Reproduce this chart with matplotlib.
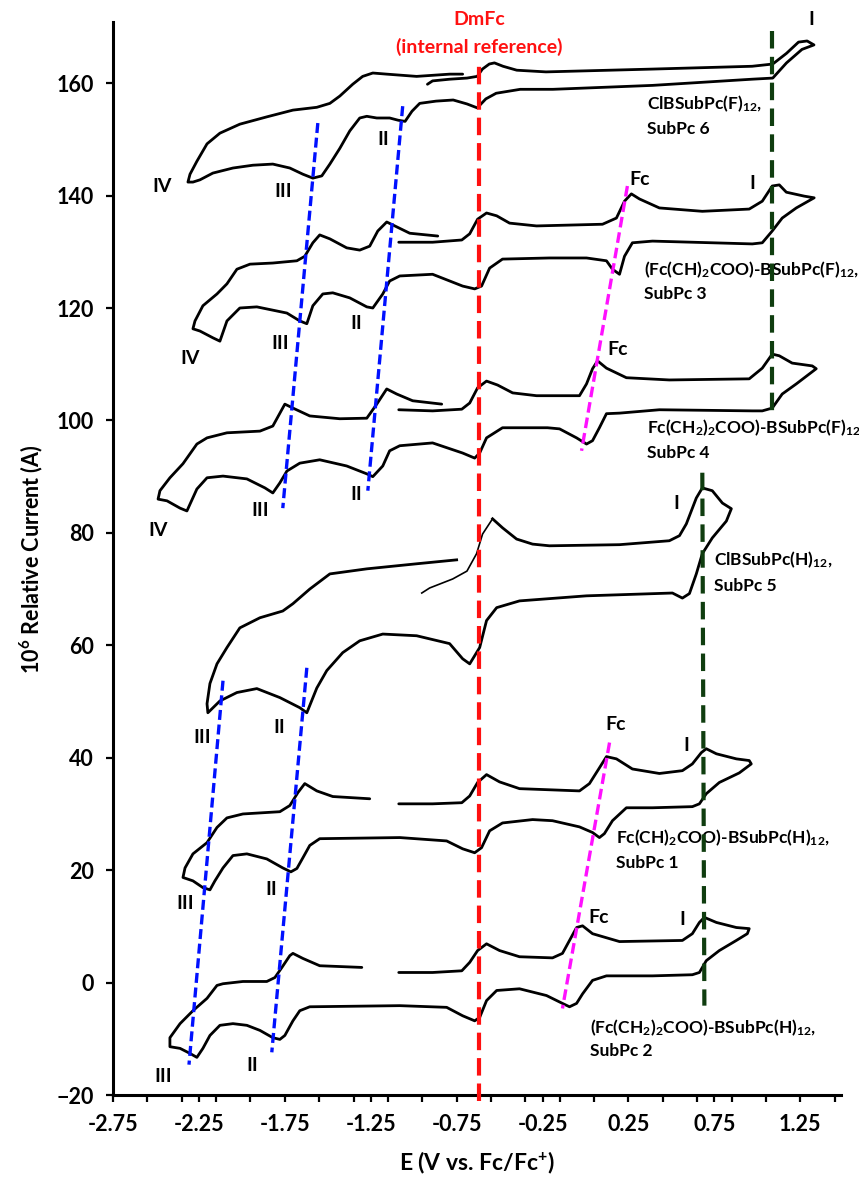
import matplotlib
matplotlib.use("Agg")
import matplotlib.pyplot as plt

plt.rcParams['font.family'] = ['Lato', 'DejaVu Sans']
plt.rcParams['font.weight'] = 'bold'
plt.rcParams['mathtext.fontset'] = 'custom'
plt.rcParams['mathtext.bf'] = 'Lato:bold'
plt.rcParams['mathtext.rm'] = 'Lato:bold'
plt.rcParams['mathtext.default'] = 'bf'

# ---- CV traces (E in V vs Fc/Fc+, current in 1e-6 A, offset) ----
# ClBSubPc(F)12, SubPc 6
e6 = [-0.92, -0.89, -0.79, -0.69, -0.63, -0.60, -0.56, -0.53, -0.48, -0.40, -0.23, 0.39, 0.97, 1.09,
      1.17, 1.24, 1.29, 1.33, 1.26, 1.17, 1.09, 0.97, 0.39, -0.19, -0.38, -0.52, -0.58, -0.63, -0.69,
      -0.77, -0.87, -0.965, -1.01, -1.05, -1.09, -1.14, -1.215, -1.273, -1.314, -1.372, -1.43, -1.488,
      -1.535, -1.587, -1.645, -1.721, -1.82, -1.936, -2.052, -2.169, -2.244, -2.285, -2.314,
      -2.302, -2.262, -2.203, -2.128, -2.012, -1.855, -1.703, -1.564, -1.488, -1.43, -1.355, -1.297,
      -1.238, -1.157, -0.983, -0.79, -0.715]
i6 = [159.8, 160.4, 160.7, 160.9, 161.2, 162.5, 163.4, 163.6, 163.0, 162.3, 162.0, 162.5, 163.0, 163.4,
      165.3, 167.3, 167.5, 166.8, 166.0, 163.6, 160.9, 160.7, 159.6, 158.9, 158.9, 158.2, 157.2, 155.6,
      156.3, 157.0, 156.8, 156.4, 155.0, 153.2, 153.4, 153.8, 153.8, 154.1, 153.8, 151.5, 148.4, 145.6,
      143.5, 143.1, 143.8, 144.9, 145.6, 145.4, 144.9, 144.0, 142.8, 142.4, 142.4,
      143.8, 146.1, 149.2, 151.1, 152.7, 154.0, 155.2, 155.7, 156.4, 157.7, 159.8, 161.2,
      161.8, 161.6, 161.2, 161.6, 161.6]

# (Fc(CH)2COO)-BSubPc(F)12, SubPc 3
e3 = [-1.087, -0.89, -0.72, -0.674, -0.628, -0.576, -0.517, -0.442, -0.285, 0.099, 0.18, 0.227, 0.267,
      0.314, 0.43, 0.68, 0.953, 1.029, 1.087, 1.128, 1.169, 1.273, 1.331, 1.227, 1.145, 1.087, 1.029,
      0.971, 0.39, 0.273, 0.227, 0.198, 0.157, 0.122, 0.006, -0.21, -0.483, -0.558, -0.605, -0.645,
      -0.715, -0.89, -1.081, -1.14, -1.18, -1.238, -1.273, -1.372, -1.471, -1.529, -1.587, -1.622,
      -1.663, -1.738, -1.913, -2.012, -2.087, -2.128, -2.169, -2.244, -2.285,
      -2.273, -2.227, -2.145, -2.087, -2.029, -1.953, -1.82, -1.68, -1.634, -1.587, -1.547, -1.488,
      -1.39, -1.314, -1.256, -1.209, -1.157, -1.11, -1.023, -0.86]
i3 = [131.7, 131.7, 132.1, 133.2, 135.8, 136.9, 136.4, 135.1, 134.6, 134.9, 136.0, 139.0, 140.3,
      139.4, 137.8, 137.2, 137.6, 139.0, 141.7, 141.9, 140.6, 139.9, 139.6, 137.8, 136.0, 133.7, 131.6,
      131.4, 131.9, 131.6, 129.2, 126.0, 126.9, 128.4, 128.9, 128.9, 128.7, 127.1, 123.9, 123.4,
      123.9, 126.0, 125.7, 124.8, 122.5, 120.0, 120.2, 121.8, 122.7, 122.5, 120.4, 117.2,
      117.7, 119.1, 120.2, 120.0, 117.7, 114.1, 114.7, 115.9, 116.3,
      117.7, 120.4, 122.5, 124.3, 126.9, 127.8, 128.0, 128.4, 129.2, 131.6, 133.0, 132.3,
      130.7, 130.3, 131.0, 133.7, 135.3, 134.6, 133.3, 132.8]

# Fc(CH2)2COO)-BSubPc(F)12, SubPc 4
e4 = [-1.087, -0.89, -0.72, -0.674, -0.628, -0.576, -0.512, -0.424, -0.285, -0.035, 0.006, 0.041,
      0.07, 0.122, 0.238, 0.488, 0.953, 1.029, 1.087, 1.128, 1.203, 1.32, 1.343, 1.227, 1.145, 1.087,
      1.029, 0.971, 0.43, 0.198, 0.122, 0.081, 0.041, 0.006, -0.052, -0.151, -0.221, -0.483, -0.576,
      -0.616, -0.645, -0.715, -0.89, -1.081, -1.14, -1.18, -1.238, -1.273, -1.39, -1.547, -1.663,
      -1.738, -1.779, -1.82, -1.866, -1.971, -2.11, -2.203, -2.262, -2.32, -2.36, -2.436, -2.488,
      -2.477, -2.419, -2.343, -2.262, -2.203, -2.087, -1.895, -1.82, -1.75, -1.703, -1.605, -1.43,
      -1.273, -1.215, -1.157, -1.099, -1.006, -0.837]
i4 = [101.9, 101.7, 102.0, 103.1, 105.8, 107.0, 106.3, 104.9, 104.4, 104.4, 106.5, 109.2,
      110.6, 109.3, 107.6, 107.2, 107.4, 109.3, 111.8, 111.5, 110.2, 109.7, 109.2, 106.5, 104.7, 102.2,
      101.7, 101.7, 101.9, 101.3, 101.2, 98.7, 96.4, 95.8, 96.9, 98.5, 98.7, 98.7, 96.9,
      94.2, 93.3, 94.2, 96.0, 95.5, 94.6, 91.9, 90.0, 90.5, 91.9, 93.0, 92.4,
      91.0, 88.9, 87.1, 88.0, 89.6, 90.1, 89.8, 87.8, 83.9, 84.4, 85.7, 86.0,
      87.5, 89.8, 92.3, 95.8, 96.9, 97.8, 98.1, 99.0, 102.9, 102.2, 100.8, 100.3,
      100.4, 102.9, 105.6, 104.7, 103.5, 102.9]

# ClBSubPc(H)12, SubPc 5
e5 = [-0.953, -0.907, -0.773, -0.69, -0.634, -0.599, -0.541, -0.483, -0.401, -0.308, -0.21, 0.198,
      0.488, 0.547, 0.587, 0.645, 0.68, 0.738, 0.797, 0.849, 0.82, 0.738, 0.68, 0.645, 0.605, 0.564,
      0.506, 0.006, -0.384, -0.517, -0.576, -0.616, -0.674, -0.715, -0.791, -0.983, -1.18, -1.314,
      -1.413, -1.506, -1.564, -1.622, -1.663, -1.779, -1.913, -2.029, -2.128, -2.198,
      -2.203, -2.186, -2.145, -2.087, -2.012, -1.895, -1.762, -1.703, -1.605, -1.488, -1.273, -0.983,
      -0.75]
i5 = [69.3, 70.2, 71.8, 73.2, 76.3, 79.8, 82.5, 80.9, 78.9, 78.0, 77.7, 77.9,
      78.6, 79.5, 81.6, 86.2, 88.0, 87.5, 85.3, 84.3, 82.1, 79.1, 76.3, 72.7, 69.2, 68.4,
      69.3, 68.8, 67.9, 66.7, 64.4, 59.6, 56.7, 57.6, 60.3, 61.7, 62.0, 60.8,
      58.7, 55.5, 52.4, 48.0, 48.9, 50.7, 52.3, 51.6, 50.1, 48.0,
      49.6, 53.2, 56.7, 59.6, 63.1, 64.9, 66.1, 67.4, 70.0, 72.7, 73.6, 74.5,
      75.2]

# Fc(CH)2COO)-BSubPc(H)12, SubPc 1
e1 = [-1.087, -0.89, -0.72, -0.674, -0.628, -0.576, -0.5, -0.384, -0.035, 0.023, 0.081, 0.122, 0.18,
      0.273, 0.43, 0.564, 0.622, 0.674, 0.703, 0.762, 0.878, 0.953, 0.965, 0.895, 0.779, 0.703, 0.663,
      0.622, 0.39, 0.238, 0.157, 0.11, 0.081, 0.041, -0.035, -0.192, -0.308, -0.483, -0.558, -0.605,
      -0.645, -0.715, -0.808, -1.081, -1.547, -1.605, -1.645, -1.68, -1.715, -1.762, -1.855, -1.971,
      -2.052, -2.11, -2.157, -2.186, -2.227, -2.285, -2.343,
      -2.331, -2.285, -2.203, -2.145, -2.087, -1.994, -1.779, -1.721, -1.674, -1.634, -1.564, -1.471,
      -1.256]
i1 = [31.8, 31.8, 32.0, 33.2, 35.6, 37.0, 35.7, 34.5, 34.1, 35.4, 38.2, 40.2, 39.8,
      38.0, 37.2, 37.7, 38.9, 40.9, 41.6, 40.7, 39.8, 39.5, 38.9, 37.3, 35.6, 33.6, 31.8,
      31.3, 31.1, 31.1, 28.8, 26.5, 25.8, 26.7, 27.7, 28.8, 29.0, 28.4, 27.0, 24.0,
      23.1, 23.8, 25.2, 25.8, 25.6, 24.4, 22.2, 20.3, 19.7, 20.4, 22.0, 22.9,
      22.6, 20.4, 18.1, 16.5, 16.9, 18.1, 18.7,
      20.4, 22.9, 24.9, 27.6, 29.3, 30.0, 30.4, 31.5, 33.8, 35.4, 34.1, 33.1,
      32.7]

# (Fc(CH2)2COO)-BSubPc(H)12, SubPc 2
e2 = [-1.087, -0.89, -0.72, -0.674, -0.628, -0.576, -0.5, -0.384, -0.192, -0.134, -0.093, -0.052,
      -0.017, 0.041, 0.198, 0.564, 0.622, 0.663, 0.692, 0.762, 0.878, 0.953, 0.942, 0.878, 0.779,
      0.703, 0.663, 0.622, 0.39, 0.122, 0.041, -0.017, -0.052, -0.093, -0.134, -0.227, -0.384, -0.517,
      -0.576, -0.616, -0.645, -0.715, -0.808, -1.081, -1.605, -1.663, -1.703, -1.75, -1.779, -1.82,
      -1.895, -1.971, -2.052, -2.128, -2.186, -2.227, -2.262, -2.302, -2.36, -2.419,
      -2.419, -2.36, -2.285, -2.203, -2.145, -2.11, -1.994, -1.855, -1.808, -1.767, -1.721, -1.703,
      -1.645, -1.547, -1.302]
i2 = [1.8, 1.8, 2.1, 3.6, 5.7, 6.9, 5.7, 4.6, 4.4, 5.2, 7.5, 9.8,
      10.1, 8.7, 7.3, 7.5, 8.7, 10.7, 11.6, 10.7, 9.8, 9.6, 8.7, 7.5, 5.7,
      3.9, 1.8, 1.4, 1.2, 1.2, 0.4, -2.0, -3.7, -4.3, -3.7, -2.3, -1.1, -1.4,
      -3.2, -6.2, -6.8, -5.9, -4.4, -4.1, -4.3, -5.0, -6.8, -9.4, -10.1, -9.8,
      -8.5, -7.6, -7.3, -7.6, -9.4, -11.7, -13.3, -12.6, -11.7, -11.4,
      -9.8, -7.3, -5.0, -2.8, -0.5, -0.2, 0.2, 0.2, 0.9, 2.7, 4.8, 5.2,
      4.3, 3.0, 2.7]

curves = [(e6, i6), (e3, i3), (e4, i4), (e1, i1), (e2, i2)]

# guide lines (E, I endpoints)
dmfc_E = [-0.617, -0.617]
dmfc_I = [-21, 164]
blue_lines = [([-1.558, -1.762], [152.9, 84.4]),
              ([-1.064, -1.267], [155.9, 87.5]),
              ([-2.11, -2.308], [53.7, -14.6]),
              ([-1.622, -1.826], [56.0, -12.4])]
magenta_lines = [([0.244, -0.023], [141.7, 94.6]),
                 ([0.14, -0.134], [42.7, -4.6])]
green_lines = [([1.087, 1.087], [169.2, 101.2]),
               ([0.68, 0.692], [90.7, -4.1])]

# peak labels (text, E, I)
peak_labels = [("IV", -2.465, 141.7), ("III", -1.762, 140.8), ("II", -1.18, 150.0), ("I", 1.314, 171.4),
               ("Fc", 0.314, 142.9), ("I", 0.971, 142.2),
               ("IV", -2.302, 111.1), ("III", -1.779, 113.6), ("II", -1.337, 117.2),
               ("Fc", 0.186, 112.7), ("IV", -2.488, 80.5), ("III", -1.895, 83.9), ("II", -1.337, 86.9),
               ("I", 0.529, 85.2), ("III", -2.233, 43.6), ("II", -1.785, 45.3),
               ("Fc", 0.174, 46.0), ("I", 0.587, 42.1), ("III", -2.331, 14.0), ("II", -1.831, 16.5),
               ("Fc", 0.076, 11.6), ("I", 0.564, 11.2), ("III", -2.459, -16.7), ("II", -1.942, -14.8)]

# compound names (text, E left, I)
names = [(r"ClBSubPc(F)$_{12}$,", 0.36, 156.3), ("SubPc 6", 0.36, 151.8),
         (r"(Fc(CH)$_2$COO)-BSubPc(F)$_{12}$,", 0.343, 126.8), ("SubPc 3", 0.343, 122.5),
         (r"Fc(CH$_2$)$_2$COO)-BSubPc(F)$_{12}$", 0.36, 98.7), ("SubPc 4", 0.36, 94.2),
         (r"ClBSubPc(H)$_{12}$,", 0.75, 75.2), ("SubPc 5", 0.75, 70.6),
         (r"Fc(CH)$_2$COO)-BSubPc(H)$_{12}$,", 0.18, 25.8), ("SubPc 1", 0.18, 21.3),
         (r"(Fc(CH$_2$)$_2$COO)-BSubPc(H)$_{12}$,", 0.029, -8.0), ("SubPc 2", 0.029, -12.1)]

fig = plt.figure(figsize=(8.59, 11.80), dpi=100)
ax = fig.add_axes([0.1316, 0.072, 0.848, 0.909])

for e, i in curves:
    ax.plot(e, i, color='black', lw=2.0, solid_capstyle='round', solid_joinstyle='round', zorder=3)
# SubPc 5: first sweep drawn thinner
ax.plot(e5[:7], i5[:7], color='black', lw=1.2, solid_joinstyle='round', zorder=3)
ax.plot(e5[6:], i5[6:], color='black', lw=2.0, solid_joinstyle='round', zorder=3)

ax.plot(dmfc_E, dmfc_I, color='#ff1010', lw=3.0, ls=(0, (4.2, 1.9)), zorder=4, clip_on=False)
for e, i in blue_lines:
    ax.plot(e, i, color='#0010ff', lw=2.4, ls=(0, (3, 1.4)), zorder=4)
for e, i in magenta_lines:
    ax.plot(e, i, color='#ff10ff', lw=2.4, ls=(0, (3.2, 1.5)), zorder=4)
for e, i in green_lines:
    ax.plot(e, i, color='#0f3d0f', lw=3.0, ls=(0, (4.2, 2.0)), zorder=4)

for t, e, i in peak_labels:
    ax.text(e, i, t, ha='center', va='center', fontsize=14, fontweight='bold')
for t, e, i in names:
    ax.text(e, i, t, ha='left', va='center', fontsize=12.5, fontweight='bold')

ax.text(-0.617, 171.4, "DmFc", color='#ff1010', ha='center', va='center', fontsize=14, fontweight='bold')
ax.text(-0.617, 166.4, "(internal reference)", color='#ff1010', ha='center', va='center',
        fontsize=14, fontweight='bold')

ax.set_xlim(-2.75, 1.49)
ax.set_ylim(-20, 170.8)
ax.set_xticks([-2.75 + 0.5 * k for k in range(9)])
ax.set_xticklabels(["%.2f" % (-2.75 + 0.5 * k) for k in range(9)])
ax.set_xticks([-2.75 + 0.2 * k for k in range(22)], minor=True)
ax.set_yticks(range(-20, 161, 20))
for s in ['top', 'right']:
    ax.spines[s].set_visible(False)
for s in ['left', 'bottom']:
    ax.spines[s].set_linewidth(2.2)
ax.tick_params(axis='both', which='both', direction='out', length=5, width=1.6, labelsize=15.5, pad=9)
for lab in ax.get_xticklabels() + ax.get_yticklabels():
    lab.set_fontweight('bold')

ax.set_xlabel(r"E (V vs. Fc/Fc$^{+}$)", fontsize=16.5, fontweight='bold', labelpad=10)
ax.set_ylabel(r"10$^{6}$ Relative Current (A)", fontsize=15.5, fontweight='bold', labelpad=8)

fig.savefig("out.png", dpi=100)
